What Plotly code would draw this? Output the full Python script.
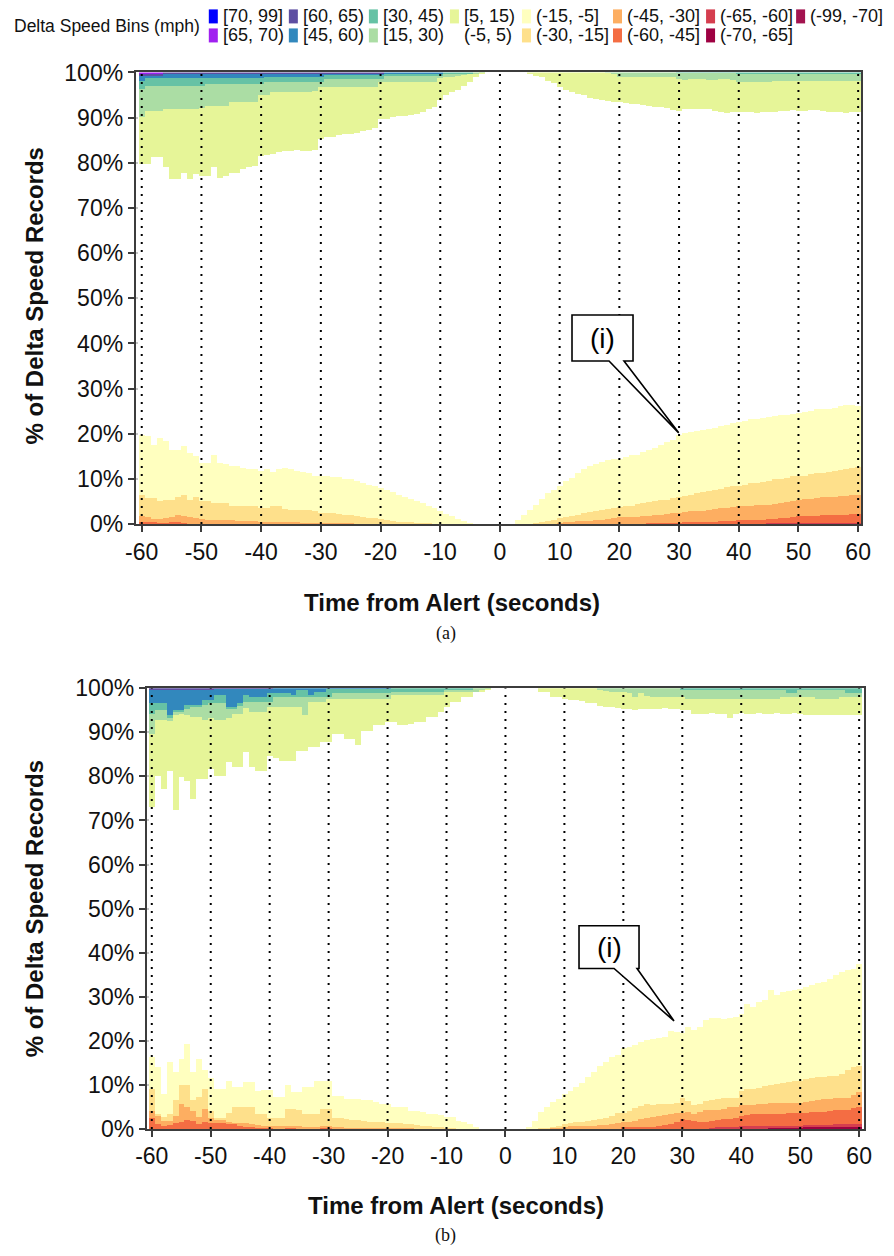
import numpy as np
import plotly.graph_objects as go

FW, FH = 894, 1256
# The photographed page appears slightly shrunk and shifted; positions below are given in
# reference-picture pixels and mapped to figure pixels with this measured correction.
KX, CX, KY, CY = 0.976, 12.3, 0.978, 13.6

# ---------------- categories / ticks ----------------
SECONDS = list(range(-60, 61))
X_TICKS = list(range(-60, 61, 10))
X_TICK_TEXT = [str(v) for v in X_TICKS]
Y_TICKS = list(range(0, 101, 10))
Y_TICK_TEXT = [f"{v}%" for v in Y_TICKS]

BIN_LABELS = ["(-99, -70]", "(-70, -65]", "(-65, -60]", "(-60, -45]", "(-45, -30]",
              "(-30, -15]", "(-15, -5]", "(-5, 5)", "[5, 15)", "[15, 30)",
              "[30, 45)", "[45, 60)", "[60, 65)", "[65, 70)", "[70, 99]"]
BIN_COLORS = ["#a3134f", "#9e0142", "#d53e4f", "#f46d43", "#fdae61",
              "#fee08b", "#ffffbf", "#ffffff", "#e6f598", "#abdda4",
              "#66c2a5", "#3288bd", "#5e4fa2", "#a020f0", "#0000ff"]

LEGEND_COLUMNS = [["[70, 99]", "[65, 70)"], ["[60, 65)", "[45, 60)"], ["[30, 45)", "[15, 30)"],
                  ["[5, 15)", "(-5, 5)"], ["(-15, -5]", "(-30, -15]"], ["(-45, -30]", "(-60, -45]"],
                  ["(-65, -60]", "(-70, -65]"], ["(-99, -70]"]]

# ---------------- data: cumulative stack tops (% of records), t = -60..60 ----------------
# Panel (a)
a_top_m70 = [0.0] * 121
a_top_m65 = [0.0] * 121
a_top_m60 = [0.0] * 105 + [0.1] * 16
a_top_m45 = ([0.4, 0.3, 0.3, 0.2, 0.2, 0.3, 0.3, 0.2] + [0.0] * 52 + [0.0] * 25 +
             [0.1, 0.1, 0.2, 0.2, 0.2, 0.2, 0.3, 0.3, 0.3, 0.3, 0.3, 0.4, 0.5, 0.6, 0.6,
              0.7, 0.8, 0.8, 0.9, 0.9, 1.0, 1.1, 1.2, 1.3, 1.5, 1.6, 1.6, 1.7, 1.7, 1.8,
              1.8, 1.9, 2.0, 2.0, 2.1, 2.2])
a_top_m30 = ([1.6, 1.4, 1.0, 1.0, 1.2, 1.5, 1.8, 1.6, 1.4, 1.3,
              1.0, 0.9, 0.9, 0.9, 0.8, 0.7, 0.6, 0.5, 0.5, 0.5,
              0.4, 0.4, 0.4, 0.3, 0.3, 0.3, 0.3, 0.2, 0.2, 0.2,
              0.2, 0.1, 0.1, 0.1, 0.1, 0.1] + [0.0] * 24 + [0.0] * 10 +
             [0.2, 0.3, 0.4, 0.5, 0.5, 0.6, 0.8, 0.9, 1.0, 1.2,
              1.4, 1.4, 1.5, 1.5, 1.6, 1.6, 1.8, 2.0, 2.1, 2.3,
              2.4, 2.5, 2.7, 2.8, 2.9, 3.0, 3.2, 3.4, 3.5, 3.7,
              3.8, 3.9, 4.0, 4.1, 4.2, 4.2, 4.4, 4.6, 4.8, 5.0,
              5.3, 5.4, 5.5, 5.6, 5.8, 5.9, 6.0, 6.1, 6.2, 6.3, 6.4])
a_top_m15 = ([6.4, 5.7, 5.7, 4.9, 5.3, 5.3, 6.0, 6.4, 5.3, 6.0,
              4.9, 4.9, 4.6, 4.6, 4.6, 4.0, 4.0, 4.0, 4.0, 3.8,
              3.5, 3.5, 3.8, 3.8, 3.3, 3.1, 3.1, 3.1, 3.0, 2.8,
              2.4, 2.4, 2.3, 2.2, 1.8, 1.8, 1.7, 1.4, 1.3, 1.2,
              1.0, 0.7, 0.6, 0.4, 0.4, 0.3, 0.2, 0.1, 0.1, 0.0,
              0.0, 0.0, 0.0, 0.0, 0.0, 0.0, 0.0, 0.0, 0.0, 0.0] +
             [0.0] * 6 +
             [0.1, 0.3, 0.5, 0.9,
              1.3, 1.5, 1.6, 2.0, 2.4, 2.5, 2.9, 3.1, 3.3, 3.5,
              3.7, 3.8, 4.0, 4.4, 4.6, 4.7, 4.9, 5.2, 5.3, 5.7,
              5.9, 6.1, 6.4, 6.7, 7.0, 7.2, 7.5, 7.7, 8.1, 8.3,
              8.4, 8.6, 8.9, 9.0, 9.2, 9.4, 9.8, 9.9, 10.1, 10.5,
              10.5, 10.6, 10.9, 11.1, 11.2, 11.4, 11.6, 11.8, 12.1, 12.3, 12.6])
a_top_m5 = ([19.7, 19.3, 17.5, 19.0, 18.3, 16.4, 16.4, 17.1, 15.6, 14.9,
             13.5, 13.5, 15.3, 13.5, 13.1, 12.7, 12.7, 12.4, 12.0, 12.0,
             11.6, 12.0, 11.4, 12.0, 12.4, 12.0, 11.6, 11.4, 11.1, 10.6,
             10.5, 10.5, 10.4, 10.4, 9.9, 9.8, 9.4, 9.0, 8.6, 8.4,
             7.9, 7.5, 6.9, 6.4, 5.9, 5.4, 4.9, 4.6, 4.0, 3.5,
             2.7, 2.2, 1.6, 1.0, 0.5, 0.1, 0.0, 0.0, 0.0, 0.0] +
            [0.0, 0.0, 0.0] +
            [0.9, 2.0, 3.1, 4.2, 5.5, 6.8, 7.5,
             8.4, 9.4, 10.1, 11.2, 12.1, 12.7, 13.3, 13.6, 14.0, 14.2,
             14.3, 14.8, 15.1, 15.3, 15.8, 16.4, 16.8, 17.5, 18.0, 18.6,
             19.7, 20.1, 20.2, 20.5, 20.8, 21.0, 21.2, 21.6, 21.9, 22.3,
             22.5, 22.7, 23.1, 23.2, 23.4, 23.7, 23.8, 24.0, 24.0, 24.2,
             24.6, 24.7, 24.9, 25.3, 25.4, 25.3, 25.6, 26.0, 26.2, 26.2, 26.0])
a_top_p5 = ([79.6, 79.6, 81.1, 81.1, 78.9, 76.4, 76.4, 77.7, 76.4, 77.4,
             77.0, 77.0, 78.9, 76.6, 77.0, 77.7, 77.7, 78.5, 78.9, 79.2,
             81.4, 81.6, 81.8, 82.2, 82.6, 82.6, 82.8, 82.6, 82.6, 82.8,
             85.2, 85.5, 85.7, 86.0, 86.3, 86.3, 86.4, 87.0, 87.2, 87.7,
             89.6, 89.7, 90.0, 90.2, 90.3, 90.5, 90.7, 91.1, 91.8, 92.2,
             93.7, 94.8, 95.6, 96.1, 96.8, 97.7, 98.8, 99.6, 100.0, 100.0] +
            [100.0, 100.0, 100.0, 100.0, 100.0, 99.5, 99.2, 98.8, 98.1, 97.5,
             96.6, 96.0, 95.5, 95.1, 94.8, 94.3, 94.0, 93.8, 93.5, 93.4,
             93.3, 93.2, 93.0, 92.9, 92.8, 92.5, 92.3, 92.2, 92.1, 91.6,
             91.4, 91.8, 91.8, 91.8, 91.8, 91.7, 91.4, 91.1, 91.0, 91.1,
             91.1, 91.2, 91.1, 91.0, 91.1, 91.1, 91.2, 91.3, 91.4, 91.5,
             91.4, 91.4, 91.6, 91.5, 91.3, 91.2, 91.1, 91.1, 91.0, 91.1, 91.1])
a_top_p15 = ([90.0, 91.4, 91.4, 91.4, 91.8, 91.8, 91.8, 91.8, 91.8, 91.8,
              92.0, 92.5, 92.5, 92.5, 92.5, 93.3, 93.3, 93.3, 93.3, 93.3,
              94.8, 94.8, 95.5, 95.5, 95.5, 95.5, 95.5, 95.5, 95.5, 95.9,
              96.6, 96.6, 96.6, 96.6, 96.6, 96.6, 96.6, 96.6, 96.6, 96.6,
              97.7, 97.7, 97.7, 97.7, 97.7, 97.7, 97.7, 97.7, 97.7, 97.7,
              98.8, 98.8, 98.8, 99.2, 99.5, 99.6, 99.7, 99.8, 100.0, 100.0] +
             [100.0] * 18 + [99.8, 99.5] +
             [99.0, 98.8, 98.8, 98.8, 98.8, 98.8, 98.8, 98.8, 98.8, 98.8] +
             [98.4, 98.3, 98.4, 98.5, 98.4, 98.3, 98.2, 98.4, 98.5, 98.3] +
             [97.7] * 6 + [98.1] * 15)
a_top_p30 = ([96.2] + [97.0] * 10 + [97.4] * 10 + [97.7] * 10 + [98.4] * 10 +
             [99.2] * 10 + [99.6] * 5 + [100.0] * 4 +
             [100.0] * 30 + [99.8] * 10 + [99.5] * 21)
a_top_p45 = [98.1] + [98.6] * 20 + [99.0] * 10 + [99.5] * 20 + [100.0] * 9 + [100.0] * 61
a_top_p60 = [99.3] * 4 + [99.6] * 17 + [99.7] * 20 + [100.0] * 19 + [100.0] * 61
a_top_p65 = [99.6] * 4 + [100.0] * 117
a_top_p70 = [100.0] * 121

# Panel (b)
b_top_m70 = [0.0] * 110 + [0.1] * 11
b_top_m65 = [0.0] * 105 + [0.3] * 16
b_top_m60 = ([0.0] * 60 + [0.0] * 35 +
             [0.2, 0.3, 0.3, 0.3, 0.3,
              0.5, 0.6, 0.6, 0.6, 0.6, 0.6, 0.7, 0.7, 0.7, 0.7,
              0.7, 0.8, 0.8, 0.8, 0.8, 0.8, 1.0, 1.0, 1.0, 1.0, 1.0])
b_top_m45 = ([2.3, 1.0, 0.6, 0.8, 1.2, 1.5, 2.0, 1.8, 1.0, 1.6,
              1.2, 1.2, 1.2, 1.2, 1.1, 0.5, 0.4, 0.3, 0.2, 0.2,
              0.2, 0.1, 0.1, 0.1, 0.1, 0.1, 0.1, 0.1, 0.1, 0.1, 0.1] + [0.0] * 29 +
             [0.0] * 20 +
             [0.3, 0.3, 0.3, 0.4, 0.4, 0.4, 0.6, 0.8, 1.1, 1.4,
              2.2, 2.0, 1.8, 1.5, 1.4, 1.7, 2.0, 2.1, 2.2, 2.4,
              2.9, 3.0, 3.2, 3.2, 3.2, 3.3, 3.3, 3.4, 3.5, 3.5,
              3.5, 3.6, 3.8, 3.8, 3.8, 4.0, 4.2, 4.2, 4.2, 4.6, 5.0])
b_top_m30 = ([4.1, 2.9, 1.8, 1.8, 2.9, 5.6, 5.0, 4.1, 2.6, 4.5,
              2.3, 2.0, 2.0, 1.5, 1.2, 1.2, 1.2, 1.0, 0.8, 0.7,
              0.6, 0.5, 0.5, 0.6, 0.6, 0.5, 0.4, 0.4, 0.4, 0.6,
              0.6, 0.3, 0.3, 0.2, 0.2, 0.2, 0.2, 0.1, 0.1, 0.1,
              0.1, 0.1, 0.1, 0.1, 0.1] + [0.0] * 15 +
             [0.0] * 8 +
             [0.2, 0.3,
              0.4, 0.5, 0.5, 0.6, 0.6, 0.7, 0.8, 0.9, 1.1, 1.2,
              1.4, 1.6, 1.8, 2.2, 2.5, 2.6, 2.9, 3.1, 3.3, 3.5,
              3.6, 3.7, 3.4, 3.8, 4.2, 4.2, 4.3, 4.5, 4.8, 5.0,
              5.3, 5.3, 5.3, 5.5, 5.6, 5.7, 5.7, 5.8, 5.9, 5.9,
              5.9, 6.1, 6.3, 6.5, 6.7, 6.8, 6.9, 7.0, 7.0, 7.6, 8.2])
b_top_m15 = ([9.0, 3.3, 2.6, 3.3, 6.4, 9.8, 9.8, 6.4, 7.1, 9.0,
              4.0, 2.3, 2.3, 3.5, 4.8, 4.8, 5.0, 4.8, 3.3, 3.3,
              2.3, 2.3, 2.5, 4.5, 4.5, 4.3, 3.3, 3.3, 3.3, 4.5,
              4.5, 2.3, 2.3, 2.2, 2.0, 2.0, 1.8, 1.6, 1.4, 1.4,
              1.3, 1.2, 1.2, 1.1, 1.0, 0.8, 0.6, 0.5, 0.4, 0.3,
              0.2, 0.1, 0.0, 0.0, 0.0, 0.0, 0.0, 0.0, 0.0, 0.0] +
             [0.0] * 6 +
             [0.2, 0.2, 0.3, 0.7,
              1.1, 1.2, 1.4, 1.4, 1.8, 1.9, 2.1, 2.5, 2.9, 3.6,
              3.6, 4.1, 4.7, 5.1, 5.5, 5.3, 5.5, 5.6, 5.6, 5.9,
              7.0, 6.3, 5.3, 5.6, 6.3, 6.4, 6.7, 6.9, 7.0, 7.0,
              8.6, 9.0, 9.0, 9.2, 9.7, 10.0, 10.2, 10.3, 10.5, 10.9,
              10.9, 11.3, 11.5, 11.7, 11.8, 12.0, 12.0, 12.4, 13.2, 13.9, 14.1])
b_top_m5 = ([16.2, 13.9, 7.9, 15.1, 12.8, 15.8, 19.2, 12.8, 15.8, 13.2,
             11.5, 9.0, 9.0, 10.9, 9.4, 9.4, 10.5, 10.5, 8.6, 8.8,
             8.8, 7.1, 7.1, 9.8, 8.3, 8.3, 9.4, 9.4, 10.9, 10.9,
             10.9, 7.5, 7.5, 6.7, 6.7, 6.7, 6.4, 6.4, 6.0, 5.6,
             5.6, 4.8, 4.8, 4.8, 4.1, 4.1, 3.7, 3.3, 3.3, 3.0,
             2.6, 2.6, 1.8, 1.4, 1.0, 0.3, 0.0, 0.0, 0.0, 0.0] +
            [0.0] * 4 +
            [0.3, 1.8, 3.7, 4.8, 6.0, 6.7,
             7.9, 8.6, 9.4, 10.3, 11.7, 12.8, 14.3, 15.1, 16.2, 16.6,
             18.3, 18.6, 18.9, 19.6, 20.0, 20.4, 20.6, 20.9, 22.1, 21.9,
             21.7, 23.0, 22.4, 23.0, 24.7, 25.2, 25.2, 24.9, 25.2, 25.3,
             26.1, 28.3, 27.6, 28.7, 29.2, 31.4, 30.3, 31.0, 31.2, 31.5,
             31.7, 32.1, 32.7, 33.0, 33.3, 34.0, 34.8, 35.5, 36.1, 36.3, 37.4])
b_top_p5 = ([73.0, 80.1, 77.0, 81.2, 72.4, 79.7, 79.0, 74.7, 79.3, 79.3,
             81.6, 80.1, 80.1, 83.1, 82.0, 82.0, 85.4, 82.0, 81.2, 81.2,
             84.6, 84.0, 83.5, 83.5, 83.5, 85.8, 85.8, 86.5, 86.5, 87.7,
             87.7, 89.6, 89.6, 88.4, 88.4, 87.0, 90.3, 90.3, 91.5, 91.5,
             92.2, 92.2, 91.5, 91.5, 91.8, 92.2, 92.2, 93.4, 93.4, 94.6,
             95.7, 96.9, 96.9, 98.0, 98.0, 99.2, 99.2, 99.7, 100.0, 100.0] +
            [100.0, 100.0, 100.0, 100.0, 100.0, 100.0, 99.2, 99.2, 98.0, 98.0,
             97.6, 97.3, 97.3, 97.0, 96.5, 96.5, 96.0, 95.7, 95.7, 95.5,
             95.3, 95.3, 95.0, 95.2, 95.3, 95.3, 95.3, 95.4, 95.3, 95.3,
             95.0, 95.0, 94.2, 94.2, 94.2, 94.3, 94.2, 94.0, 93.1, 94.2,
             94.4, 94.2, 94.2, 94.3, 94.0, 94.2, 94.3, 94.2, 94.0, 94.3,
             94.2, 93.8, 93.9, 93.8, 93.8, 93.9, 93.8, 93.8, 93.9, 93.8, 93.8])
b_top_p15 = ([89.5, 92.7, 92.7, 92.5, 93.8, 94.2, 93.9, 93.5, 93.5, 92.7,
              93.1, 92.7, 92.7, 93.1, 94.2, 94.2, 95.4, 94.6, 94.6, 94.6,
              95.8, 95.8, 95.8, 95.8, 95.8, 95.8, 93.9, 96.9, 96.9, 96.9,
              97.4, 97.6, 97.6, 97.6, 97.6, 97.6, 97.6, 97.6, 97.6, 97.6,
              97.6, 98.4, 98.4, 98.4, 98.4, 98.4, 98.4, 98.4, 98.4, 98.4,
              99.2, 99.2, 99.2, 99.2, 99.2, 99.2, 99.5, 99.8, 100.0, 100.0] +
             [100.0] * 16 + [99.5, 99.3, 99.2, 99.2] +
             [99.0, 98.8, 98.0, 98.8, 98.2, 98.0, 98.0, 98.0, 98.0, 98.0,
              98.0, 97.6, 97.6, 97.6, 97.6, 97.6, 97.6, 97.6, 97.6, 97.6,
              97.6, 97.6, 97.6, 97.6, 97.6, 97.6, 97.6, 98.0, 98.0, 98.0,
              98.0, 98.0, 98.0, 97.6, 97.6, 97.6, 97.6, 98.0, 98.0, 98.0, 98.0])
b_top_p30 = ([94.2, 95.0, 95.0, 93.3, 94.5, 94.6, 95.3, 95.6, 95.6, 96.1,
              96.5, 96.5, 96.5, 95.2, 95.2, 96.0, 96.9, 96.9, 96.9, 96.9,
              96.9, 98.0, 98.0, 98.0, 98.0, 98.0, 98.0, 98.0, 98.0, 98.0,
              98.0, 98.8, 98.8, 98.8, 98.8, 98.8, 98.8, 98.8, 98.8, 98.8,
              98.8, 99.2, 99.2, 99.2, 99.2, 99.2, 99.2, 99.2, 99.2, 99.2,
              99.6, 99.6, 99.6, 99.6, 99.6, 100.0, 100.0, 100.0, 100.0, 100.0] +
             [100.0] * 30 + [99.5] * 18 + [98.8, 98.8] + [99.5] * 8 + [98.8] * 3)
b_top_p45 = ([96.5, 96.5, 96.5, 93.8, 95.0, 95.0, 96.1, 96.1, 96.1, 97.3,
              97.3, 98.4, 98.4, 95.7, 95.7, 96.5, 98.4, 98.0, 98.0, 98.0,
              98.8, 98.8, 98.8, 98.8, 98.4, 99.6, 99.6, 98.4, 99.2, 99.2] +
             [99.8] * 11 + [100.0] * 19 + [100.0] * 61)
b_top_p60 = [99.6] * 11 + [99.8] * 10 + [100.0] * 39 + [100.0] * 61
b_top_p65 = [100.0] * 121
b_top_p70 = [100.0] * 121

TOPS_A = [a_top_m70, a_top_m65, a_top_m60, a_top_m45, a_top_m30, a_top_m15, a_top_m5,
          a_top_p5, a_top_p15, a_top_p30, a_top_p45, a_top_p60, a_top_p65, a_top_p70]
TOPS_B = [b_top_m70, b_top_m65, b_top_m60, b_top_m45, b_top_m30, b_top_m15, b_top_m5,
          b_top_p5, b_top_p15, b_top_p30, b_top_p45, b_top_p60, b_top_p65, b_top_p70]
for k, arr in enumerate(TOPS_A + TOPS_B):
    assert len(arr) == 121, (k, len(arr))


def bin_shares(tops):
    cum = np.vstack([np.zeros(121)] + [np.asarray(t, float) for t in tops] + [np.full(121, 100.0)])
    cum = np.maximum.accumulate(cum, axis=0)
    return np.clip(np.diff(cum, axis=0), 0, None)


def fx(S):
    return max(0.0, ((S - CX) / KX) / FW)


def fy(S):
    return 1 - ((S - CY) / KY) / FH


# ---------------- figure ----------------
FONT = "Liberation Sans, Arial, sans-serif"
SERIF = "Liberation Serif, Times New Roman, serif"
fig = go.Figure()

for xa, ya, tops in (("x", "y", TOPS_A), ("x2", "y2", TOPS_B)):
    sh = bin_shares(tops)
    for i, (lab, col) in enumerate(zip(BIN_LABELS, BIN_COLORS)):
        fig.add_trace(go.Bar(x=SECONDS, y=sh[i], name=lab, width=1.0,
                             marker=dict(color=col, line=dict(width=0)),
                             xaxis=xa, yaxis=ya, showlegend=False,
                             hovertemplate=lab + ": %{y:.1f}%<extra>%{x}s</extra>"))

axis_common = dict(showline=True, linewidth=2, linecolor="#3c3c3c", mirror=True,
                   ticks="outside", ticklen=6, tickwidth=2, tickcolor="#3c3c3c",
                   tickfont=dict(size=23, color="#111111", family=FONT), zeroline=False)
xcommon = dict(tickmode="array", tickvals=X_TICKS, ticktext=X_TICK_TEXT,
               showgrid=False, **axis_common)
ycommon = dict(range=[0, 100], tickmode="array", tickvals=Y_TICKS, ticktext=Y_TICK_TEXT,
               showgrid=True, gridcolor="#c8c8c8", gridwidth=1.5, griddash="2px,6px",
               **axis_common)

fig.update_layout(
    width=FW, height=FH, autosize=False,
    margin=dict(l=0, r=0, t=0, b=0),
    paper_bgcolor="white", plot_bgcolor="white",
    barmode="stack", bargap=0,
    font=dict(family=FONT, color="#111111"),
    xaxis=dict(domain=[fx(137), fx(862)], anchor="y", range=[-61.0, 60.5], **xcommon),
    yaxis=dict(domain=[fy(524), fy(73)], anchor="x", **ycommon),
    xaxis2=dict(domain=[fx(148), fx(865)], anchor="y2", range=[-60.85, 60.85], **xcommon),
    yaxis2=dict(domain=[fy(1128), fy(688)], anchor="x2", **ycommon),
)

shapes = []
# vertical dotted grid lines drawn on top of the bars
for xr, yr in (("x", "y"), ("x2", "y2")):
    for t in X_TICKS:
        shapes.append(dict(type="line", xref=xr, yref=yr, x0=t, x1=t, y0=0, y1=100,
                           line=dict(color="black", width=2, dash="2px,6px"), layer="above"))


def callout(xr, yr, x0, x1, yt, yb, w1, w2, tx, ty):
    path = (f"M {x0},{yt} L {x1},{yt} L {x1},{yb} L {w2},{yb} L {tx},{ty} "
            f"L {w1},{yb} L {x0},{yb} Z")
    return dict(type="path", xref=xr, yref=yr, path=path, fillcolor="white",
                line=dict(color="black", width=1.6), layer="above")


shapes.append(callout("x", "y", 12.07, 22.29, 46.3, 36.1, 18.27, 20.78, 29.94, 20.2))
shapes.append(callout("x2", "y2", 12.48, 22.66, 46.1, 36.4, 18.42, 22.32, 28.60, 24.5))

annotations = []


def pann(text, X, Y, size, family=FONT, weight="normal", xanchor="center", yanchor="middle", **kw):
    d = dict(text=text, x=fx(X), y=fy(Y), xref="paper", yref="paper", showarrow=False,
             xanchor=xanchor, yanchor=yanchor,
             font=dict(size=size, color="#111111", family=family, weight=weight))
    d.update(kw)
    return d


# axis titles
for (xt, yt_) in ((453, 602), (457, 1205)):
    annotations.append(pann("Time from Alert (seconds)", xt, yt_, 24, weight="bold"))
for (xt, yt_) in ((36, 296), (36, 908)):
    annotations.append(pann("% of Delta Speed Records", xt, yt_, 24, weight="bold", textangle=-90))

# captions
annotations.append(pann("(a)", 447, 633, 18, family=SERIF))
annotations.append(pann("(b)", 447, 1234, 18, family=SERIF))

# callout labels
annotations.append(dict(text="(i)", x=17.18, y=41.2, xref="x", yref="y", showarrow=False,
                        xanchor="center", yanchor="middle",
                        font=dict(size=28, color="black", family=FONT)))
annotations.append(dict(text="(i)", x=17.57, y=41.25, xref="x2", yref="y2", showarrow=False,
                        xanchor="center", yanchor="middle",
                        font=dict(size=28, color="black", family=FONT)))

# legend (two rows, column-major)
annotations.append(pann("Delta Speed Bins (mph)", 12.8, 27, 17.5, xanchor="left"))
LEGEND_COL_X = [210, 290, 370, 451, 523, 614, 707, 797]
LEGEND_ROW_Y = [17, 36]
color_of = dict(zip(BIN_LABELS, BIN_COLORS))
for cx, col in zip(LEGEND_COL_X, LEGEND_COLUMNS):
    for ry, lab in zip(LEGEND_ROW_Y, col):
        c = color_of[lab]
        shapes.append(dict(type="rect", xref="paper", yref="paper",
                           x0=fx(cx), x1=fx(cx + 9), y0=fy(ry + 7), y1=fy(ry - 7),
                           fillcolor=c, line=dict(width=0), layer="above"))
        annotations.append(pann(lab, cx + 12, ry, 18, xanchor="left"))

fig.update_layout(shapes=shapes, annotations=annotations)

fig.write_html("out.html", config={"displayModeBar": False},
               post_script="document.body.style.margin='0';")
